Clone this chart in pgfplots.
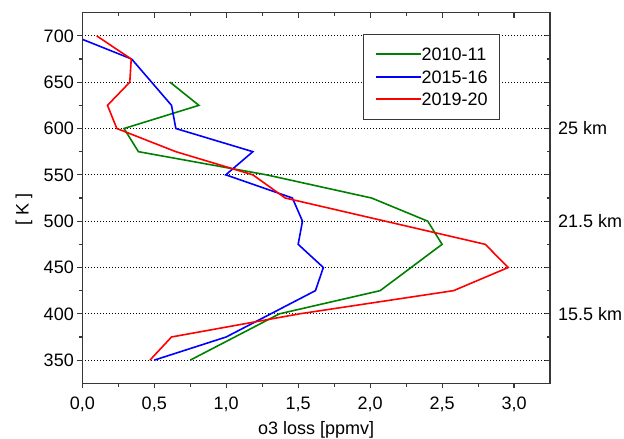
\documentclass[border=0pt]{standalone}
\usepackage{fontspec}
\setmainfont{Liberation Sans}
\usepackage{pgfplots}
\pgfplotsset{compat=1.18}

\definecolor{serA}{RGB}{0,128,0}
\definecolor{serB}{RGB}{0,0,255}
\definecolor{serC}{RGB}{255,0,0}
\definecolor{frame}{RGB}{55,55,55}

\newcommand{\bigfont}{\fontsize{18bp}{21bp}\selectfont}

\pgfplotsset{
  panel/.style={
    scale only axis, width=467.7bp, height=370.6bp,
    xmin=0, xmax=3.25, ymin=325, ymax=725,
    xtick={0,0.5,1,1.5,2,2.5,3}, ytick={350,400,450,500,550,600,650,700},
    minor x tick num=1, minor y tick num=1,
    major tick length=5bp, minor tick length=3.5bp,
    axis line style={frame, line width=1.1bp},
    every tick/.style={frame, line width=1.1bp},
  },
}

\begin{document}
\begin{tikzpicture}
\begin{axis}[panel, name=main,
  xtick pos=bottom, ytick pos=left, tick align=outside,
  ymajorgrids,
  grid style={black, line width=1bp, dash pattern=on 1bp off 2bp},
  /pgf/number format/assume math mode=true,
  tick label style={font=\bigfont},
  xticklabel style={/pgf/number format/.cd, fixed, fixed zerofill, precision=1, use comma, /tikz/.cd, yshift=-5bp},
  xlabel={o3 loss [ppmv]}, ylabel={[ K ]},
  every axis x label/.style={at={(axis description cs:0.5,-0.1395)}, anchor=base, font=\bigfont},
  every axis y label/.style={at={(axis description cs:-0.1247,0.470)}, anchor=center, rotate=90, font=\bigfont},
  legend style={at={(axis description cs:0.601,0.9425)}, anchor=north west,
    draw=frame, fill=white,
    inner xsep=11.5bp, inner ysep=13.5bp, font=\bigfont, row sep=9.5bp,
    nodes={inner sep=0pt, text height=13bp, text depth=0bp}},
  legend cell align=left,
  legend image code/.code={\draw[#1, line width=1.6bp] (0bp,0bp) -- (45bp,0bp);},
  /tikz/every even column/.append style={column sep=5bp},
  clip mode=individual,
]
% 2010-11 season
\addplot[serA, line width=1.6bp] coordinates {
  (0.61,650) (0.81,625) (0.29,600) (0.39,575) (1.28,550) (2.01,525)
  (2.40,500) (2.50,475) (2.07,425) (1.37,400) (0.75,350)};
\addlegendentry{2010-11}
% 2015-16 season
\addplot[serB, line width=1.6bp] coordinates {
  (-0.06,700) (0.343,675) (0.62,625) (0.65,600) (1.185,575) (0.997,550)
  (1.46,525) (1.53,500) (1.50,475) (1.675,450) (1.62,425) (1.00,375) (0.50,350)};
\addlegendentry{2015-16}
% 2019-20 season
\addplot[serC, line width=1.6bp] coordinates {
  (0.10,700) (0.34,675) (0.33,650) (0.175,625) (0.24,600) (0.65,575)
  (1.185,550) (1.41,525) (2.80,475) (2.96,450) (2.58,425) (1.51,400)
  (0.62,375) (0.47,350)};
\addlegendentry{2019-20}

% altitude markers beside the right edge
\node[anchor=west, inner sep=0pt, font=\bigfont, xshift=8bp] at (axis cs:3.25,600) {25 km};
\node[anchor=west, inner sep=0pt, font=\bigfont, xshift=8bp] at (axis cs:3.25,500) {21.5 km};
\node[anchor=west, inner sep=0pt, font=\bigfont, xshift=8bp] at (axis cs:3.25,400) {15.5 km};
\end{axis}

% mirrored ticks on the top and right edges, pointing inwards
\begin{axis}[panel,
  xtick pos=top, ytick pos=right, tick align=inside,
  xticklabels={}, yticklabels={},
]
\end{axis}

\pgfresetboundingbox
\path[use as bounding box] ([shift={(-82.3bp,-55.7bp)}]main.south west) rectangle ([shift={(74bp,12.7bp)}]main.north east);
\end{tikzpicture}
\end{document}
